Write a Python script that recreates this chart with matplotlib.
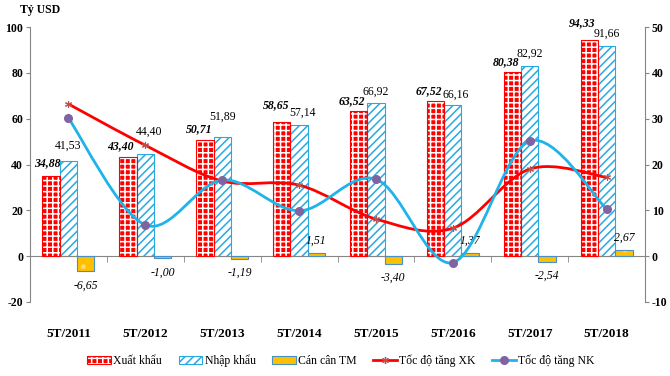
import numpy as np
import matplotlib
matplotlib.use('Agg')
import matplotlib.pyplot as plt
from matplotlib.path import Path
from matplotlib.patches import PathPatch
from matplotlib.legend_handler import HandlerTuple
from matplotlib.lines import Line2D
from matplotlib.ticker import MultipleLocator, FixedLocator

plt.rcParams['font.family'] = ['Liberation Serif', 'DejaVu Serif']
plt.rcParams['hatch.linewidth'] = 1.1
plt.rcParams['axes.unicode_minus'] = False

# du lieu
nam = ['5T/2011', '5T/2012', '5T/2013', '5T/2014', '5T/2015', '5T/2016', '5T/2017', '5T/2018']
xuat_khau = [34.88, 43.40, 50.71, 58.65, 63.52, 67.52, 80.38, 94.33]
nhap_khau = [41.53, 44.40, 51.89, 57.14, 66.92, 66.16, 82.92, 91.66]
can_can = [-6.65, -1.00, -1.19, 1.51, -3.40, 1.37, -2.54, 2.67]
tang_xk = [33.2, 24.2, 16.4, 15.5, 8.1, 6.1, 19.0, 17.2]
tang_nk = [30.1, 6.8, 16.6, 9.9, 16.8, -1.4, 25.1, 10.3]

# vi tri nhan (offset pixel so voi dinh cot)
off_xk = [(-4, 13), (-8, 11), (-6, 11), (-6, 17), (-7, 9), (-7, 10), (-6, 10), (-7, 17)]
off_nk = [(0, 15), (4, 23), (0, 21), (3, 12), (0, 11), (3, 10), (0, 12), (0, 12)]

def fmt(v):
    return ('%.2f' % v).replace('.', ',')

def smooth_path(xs, ys):
    # duong cong bezier kieu Excel (smoothed line)
    pts = list(zip(xs, ys))
    verts = [pts[0]]
    codes = [Path.MOVETO]
    n = len(pts)
    for i in range(n - 1):
        p0 = pts[i - 1] if i > 0 else pts[i]
        p1 = pts[i]
        p2 = pts[i + 1]
        p3 = pts[i + 2] if i + 2 < n else pts[i + 1]
        c1 = (p1[0] + (p2[0] - p0[0]) / 6, p1[1] + (p2[1] - p0[1]) / 6)
        c2 = (p2[0] - (p3[0] - p1[0]) / 6, p2[1] - (p3[1] - p1[1]) / 6)
        verts += [c1, c2, p2]
        codes += [Path.CURVE4] * 3
    return Path(verts, codes)

fig = plt.figure(figsize=(6.7, 3.76), dpi=100)
ax = fig.add_axes([30/670, 74/376, 615/670, 275/376])
ax2 = ax.twinx()

x = np.arange(len(nam))
w = 0.225
gray = '#868686'

b1 = ax.bar(x - w, xuat_khau, w, color='#FF0000', edgecolor='white', hatch='+++', linewidth=0, zorder=2)
b1o = ax.bar(x - w, xuat_khau, w, fill=False, edgecolor='#FF0000', linewidth=0.8, zorder=3)
b2 = ax.bar(x, nhap_khau, w, color='white', edgecolor='#29A9E1', hatch='////', linewidth=0.8, zorder=2)
b3 = ax.bar(x + w, can_can, w, color='#FFC000', edgecolor='#FFD966', hatch='.', linewidth=0, zorder=2)
b3o = ax.bar(x + w, can_can, w, fill=False, edgecolor='#4A90C8', linewidth=0.8, zorder=3)

for i in range(len(nam)):
    ax.annotate(fmt(xuat_khau[i]), (x[i] - w, xuat_khau[i]), xytext=off_xk[i], textcoords='offset pixels',
                ha='center', va='center', fontsize=8.5, fontweight='bold', fontstyle='italic')
    ax.annotate(fmt(nhap_khau[i]), (x[i], nhap_khau[i]), xytext=off_nk[i], textcoords='offset pixels',
                ha='center', va='center', fontsize=8.5)
    if can_can[i] < 0:
        ax.annotate(fmt(can_can[i]), (x[i] + w, can_can[i]), xytext=(0, -14), textcoords='offset pixels',
                    ha='center', va='center', fontsize=8.5, fontstyle='italic')
    else:
        ax.annotate(fmt(can_can[i]), (x[i] + w, can_can[i]), xytext=(0, 12), textcoords='offset pixels',
                    ha='center', va='center', fontsize=8.5, fontstyle='italic')

# duong toc do tang
ax2.add_patch(PathPatch(smooth_path(x, tang_xk), fill=False, edgecolor='#FF0000', linewidth=2, zorder=4))
ax2.plot(x, tang_xk, linestyle='none', marker=(6, 2, 0), markersize=5, color='#C0504D', markeredgewidth=0.8, zorder=5)
ax2.add_patch(PathPatch(smooth_path(x, tang_nk), fill=False, edgecolor='#1FB4E8', linewidth=2, zorder=4))
ax2.plot(x, tang_nk, linestyle='none', marker='o', markersize=5.5, color='#8064A2', zorder=5)

ax.set_xlim(-0.5, len(nam) - 0.5)
ax.set_ylim(-20, 100)
ax2.set_ylim(-10, 50)
ax.yaxis.set_major_locator(MultipleLocator(20))
ax2.yaxis.set_major_locator(MultipleLocator(10))

ax.spines['top'].set_visible(False)
ax2.spines['top'].set_visible(False)
ax2.spines['bottom'].set_visible(False)
ax2.spines['left'].set_visible(False)
ax.spines['right'].set_visible(False)
ax.spines['left'].set_color(gray)
ax2.spines['right'].set_color(gray)
ax.spines['bottom'].set_position(('data', 0))
ax.spines['bottom'].set_color(gray)

ax.set_xticks(x)
ax.set_xticklabels(nam, fontsize=9.5, fontweight='bold')
ax.tick_params(axis='x', which='major', length=0, pad=52)
ax.xaxis.set_minor_locator(FixedLocator(np.arange(0.5, len(nam) - 1, 1.0)))
ax.tick_params(axis='x', which='minor', length=4, direction='out', color=gray)

ax.tick_params(axis='y', length=3, color=gray, labelsize=8.5, pad=2)
ax2.tick_params(axis='y', length=3, color=gray, labelsize=8.5, pad=2)
for t in ax.get_yticklabels() + ax2.get_yticklabels():
    t.set_fontweight('bold')

fig.text(20/670, 1 - 10/376, 'Tỷ USD', fontsize=8.5, fontweight='bold', va='center', ha='left')

h_xk = (b1[0], b1o[0])
h_cc = (b3[0], b3o[0])
h_txk = Line2D([], [], color='#FF0000', linewidth=2, marker=(6, 2, 0), markersize=5,
               markeredgecolor='#C0504D', markerfacecolor='#C0504D')
h_tnk = Line2D([], [], color='#1FB4E8', linewidth=2, marker='o', markersize=5.5,
               markeredgecolor='#8064A2', markerfacecolor='#8064A2')
fig.legend([h_xk, b2[0], h_cc, h_txk, h_tnk],
           ['Xuất khẩu', 'Nhập khẩu', 'Cán cân TM', 'Tốc độ tăng XK', 'Tốc độ tăng NK'],
           handler_map={tuple: HandlerTuple(ndivide=1)},
           loc='center', bbox_to_anchor=(341/670, 1 - 361/376), ncol=5, frameon=False,
           fontsize=8.5, handlelength=2.0, handleheight=0.6, handletextpad=0.2, columnspacing=1.4)

fig.savefig('out.png', dpi=100)
